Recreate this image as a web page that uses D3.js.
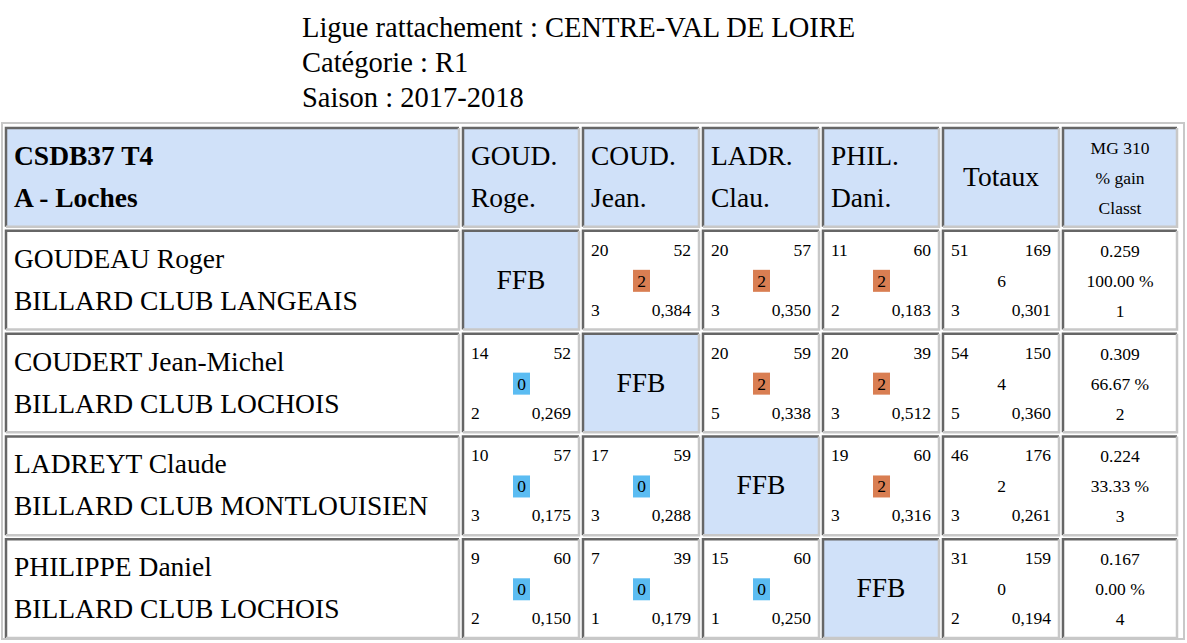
<!DOCTYPE html>
<html><head><meta charset="utf-8">
<script src="https://cdn.jsdelivr.net/npm/d3@7"></script>
<style>body{margin:0;background:#fff}svg{display:block;font-family:"Liberation Serif","Times New Roman",serif}</style>
</head><body>
<svg id="c" width="1187" height="643"></svg>
<script>
// titles
var titles = ["Ligue rattachement : CENTRE-VAL DE LOIRE", "Catégorie : R1", "Saison : 2017-2018"];
var headAbbr = [["GOUD.", "Roge."], ["COUD.", "Jean."], ["LADR.", "Clau."], ["PHIL.", "Dani."]];
var names = ["GOUDEAU Roger", "COUDERT Jean-Michel", "LADREYT Claude", "PHILIPPE Daniel"];
var clubs = ["BILLARD CLUB LANGEAIS", "BILLARD CLUB LOCHOIS", "BILLARD CLUB MONTLOUISIEN", "BILLARD CLUB LOCHOIS"];
// [points, reprises, matchPts, serie, moyenne]
var row1 = [null, [20, 52, 2, 3, "0,384"], [20, 57, 2, 3, "0,350"], [11, 60, 2, 2, "0,183"]];
var row2 = [[14, 52, 0, 2, "0,269"], null, [20, 59, 2, 5, "0,338"], [20, 39, 2, 3, "0,512"]];
var row3 = [[10, 57, 0, 3, "0,175"], [17, 59, 0, 3, "0,288"], null, [19, 60, 2, 3, "0,316"]];
var row4 = [[9, 60, 0, 2, "0,150"], [7, 39, 0, 1, "0,179"], [15, 60, 0, 1, "0,250"], null];
var totals = [[51, 169, 6, 3, "0,301"], [54, 150, 4, 5, "0,360"], [46, 176, 2, 3, "0,261"], [31, 159, 0, 2, "0,194"]];
var stats = [["0.259", "100.00 %", "1"], ["0.309", "66.67 %", "2"], ["0.224", "33.33 %", "3"], ["0.167", "0.00 %", "4"]];
var results = [row1, row2, row3, row4];

var svg = d3.select("#c");
var headBg = "#d0e1f9";
var big = 28.5, small = 17.5, mid = 17.5;

svg.selectAll("text.title").data(titles).enter().append("text")
    .attr("x", 302).attr("y", function(d, i) { return 37 + i * 35; })
    .attr("font-size", 28.5).text(function(d) { return d; });

var colEdges = [6, 463, 583, 703, 823, 943, 1063, 1181];
var x = d3.scaleOrdinal().domain(d3.range(7)).range(colEdges.slice(0, 7));
var y = d3.scaleBand().domain(d3.range(5)).range([128, 638]).paddingInner(0.04).paddingOuter(0);
function w(c) { return colEdges[c + 1] - colEdges[c] - 4; }

// outer table border
svg.append("rect").attr("x", 2).attr("y", 123).attr("width", 1182).attr("height", 516)
    .attr("fill", "none").attr("stroke", "#c8c8c8").attr("stroke-width", 2);

function cell(c, r, bg) {
    var g = svg.append("g").attr("transform", "translate(" + x(c) + "," + y(r) + ")");
    var W = w(c), H = y.bandwidth();
    g.append("rect").attr("width", W).attr("height", H).attr("fill", bg);
    g.append("path").attr("d", "M0," + H + "V0H" + W).attr("fill", "none").attr("stroke", "#666").attr("stroke-width", 2.5);
    g.append("path").attr("d", "M" + W + ",0V" + H + "H0").attr("fill", "none").attr("stroke", "#c8c8c8").attr("stroke-width", 2.5);
    return {g: g, W: W, H: H};
}

// header row
var h0 = cell(0, 0, headBg);
h0.g.selectAll("text").data(["CSDB37 T4", "A - Loches"]).enter().append("text")
    .attr("x", 8).attr("y", function(d, i) { return 37 + i * 42; })
    .attr("font-size", big - 1).attr("font-weight", "bold").text(function(d) { return d; });
headAbbr.forEach(function(a, i) {
    var h = cell(i + 1, 0, headBg);
    h.g.selectAll("text").data(a).enter().append("text")
        .attr("x", 8).attr("y", function(d, k) { return 37 + k * 42; })
        .attr("font-size", big - 1).text(function(d) { return d; });
});
var ht = cell(5, 0, headBg);
ht.g.append("text").attr("x", ht.W / 2).attr("y", 58).attr("text-anchor", "middle").attr("font-size", big - 1).text("Totaux");
var hm = cell(6, 0, headBg);
hm.g.selectAll("text").data(["MG 310", "% gain", "Classt"]).enter().append("text")
    .attr("x", hm.W / 2).attr("y", function(d, k) { return 26 + k * 30; })
    .attr("text-anchor", "middle").attr("font-size", mid).text(function(d) { return d; });

function scoreCell(c, r, d, badge) {
    var s = cell(c, r, "#fff");
    s.g.append("text").attr("x", 8).attr("y", 25).attr("font-size", small).text(d[0]);
    s.g.append("text").attr("x", s.W - 8).attr("y", 25).attr("text-anchor", "end").attr("font-size", small).text(d[1]);
    if (badge) {
        s.g.append("rect").attr("x", s.W / 2 - 8).attr("y", 39).attr("width", 17).attr("height", 22)
            .attr("fill", d[2] > 0 ? "#d97e52" : "#5bbcf2");
    }
    s.g.append("text").attr("x", s.W / 2 + 0.5).attr("y", 56).attr("text-anchor", "middle").attr("font-size", small).text(d[2]);
    s.g.append("text").attr("x", 8).attr("y", 85).attr("font-size", small).text(d[3]);
    s.g.append("text").attr("x", s.W - 8).attr("y", 85).attr("text-anchor", "end").attr("font-size", small).text(d[4]);
}

names.forEach(function(n, i) {
    var r = i + 1;
    var p = cell(0, r, "#fff");
    p.g.selectAll("text").data([n, clubs[i]]).enter().append("text")
        .attr("x", 8).attr("y", function(d, k) { return 37 + k * 42; })
        .attr("font-size", big - 1).text(function(d) { return d; });
    results[i].forEach(function(d, j) {
        if (d === null) {
            var f = cell(j + 1, r, headBg);
            f.g.append("text").attr("x", f.W / 2).attr("y", 58).attr("text-anchor", "middle").attr("font-size", big - 1).text("FFB");
        } else {
            scoreCell(j + 1, r, d, true);
        }
    });
    scoreCell(5, r, totals[i], false);
    var m = cell(6, r, "#fff");
    m.g.selectAll("text").data(stats[i]).enter().append("text")
        .attr("x", m.W / 2).attr("y", function(d, k) { return 26 + k * 30; })
        .attr("text-anchor", "middle").attr("font-size", mid).text(function(d) { return d; });
});
</script>
</body></html>
